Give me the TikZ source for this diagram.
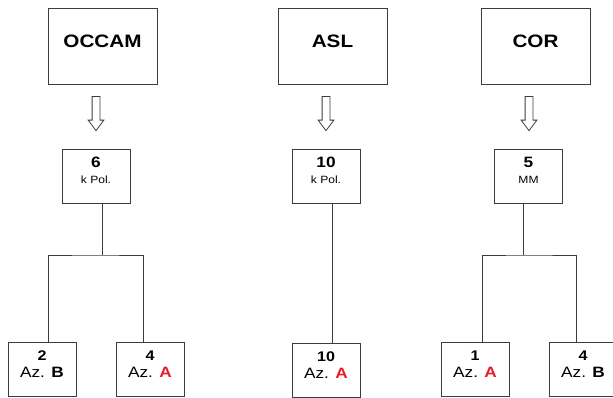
\documentclass[tikz,border=0pt]{standalone}
\usepackage{fontspec}
\setmainfont{Liberation Sans}[FakeStretch=1.15]
\usetikzlibrary{shapes.arrows}
\definecolor{azred}{RGB}{232,28,36}
\definecolor{linegray}{RGB}{60,60,60}

\begin{document}
\begin{tikzpicture}[x=1pt, y=-1pt,
    titlebox/.style={rectangle, draw=linegray, line width=0.9pt, minimum width=109pt, minimum height=76pt,
        font=\fontsize{18}{20}\selectfont\bfseries, text height=13pt, text depth=11pt},
    kbox/.style={rectangle, draw=linegray, line width=0.9pt, minimum width=68pt, minimum height=54pt,
        align=center, inner sep=0pt, font=\fontsize{15}{16}\selectfont, text height=26pt, text depth=12pt},
    azbox/.style={rectangle, draw=linegray, line width=0.9pt, minimum width=68pt, minimum height=54.5pt,
        align=center, inner sep=0pt, font=\fontsize{15}{17}\selectfont, text height=28pt, text depth=12pt},
    downarrow/.style={single arrow, draw=linegray, line width=0.8pt, rotate=-90, minimum height=34pt,
        minimum width=15pt, inner xsep=0pt, inner ysep=3.5pt, single arrow head extend=4pt,
        single arrow tip angle=74},
    link/.style={draw=linegray, line width=0.9pt}
]
\useasboundingbox (0,0) rectangle (613,397);

% Programs
\node[titlebox] (occam) at (102.5,46) {OCCAM};
\node[titlebox] (asl) at (332.5,46) {ASL};
\node[titlebox] (cor) at (535.5,46) {COR};

% Block arrows
\node[downarrow] (a1) at (96,111) {};
\node[downarrow] (a2) at (326,111) {};
\node[downarrow] (a3) at (529,111) {};

% Parent boxes
\node[kbox] (p1) at (96,176) {\textbf{6}\\{\fontsize{10.5}{12}\selectfont k Pol.}};
\node[kbox] (p2) at (326,176) {\textbf{10}\\{\fontsize{10.5}{12}\selectfont k Pol.}};
\node[kbox] (p3) at (528.5,176) {\textbf{5}\\{\fontsize{10.5}{12}\selectfont MM}};

% Children
\node[azbox] (c1) at (42,369.5) {{\fontsize{14}{16}\selectfont\bfseries 2}\\Az. \textbf{B}};
\node[azbox] (c2) at (150,369.5) {{\fontsize{14}{16}\selectfont\bfseries 4}\\Az. \textbf{\color{azred}A}};
\node[azbox] (c3) at (326,370.5) {{\fontsize{14}{16}\selectfont\bfseries 10}\\Az. \textbf{\color{azred}A}};
\node[azbox] (c4) at (475,369.5) {{\fontsize{14}{16}\selectfont\bfseries 1}\\Az. \textbf{\color{azred}A}};
\node[azbox] (c5) at (583,369.5) {{\fontsize{14}{16}\selectfont\bfseries 4}\\Az. \textbf{B}};

% Forks
\coordinate (f1) at (95.5,255);
\coordinate (f3) at (529,255);
\draw[link] ([xshift=6.5pt]p1.south) -- ([xshift=6.5pt]p1.south |- f1);
\draw[link] ([xshift=6pt]c1.north) |- (f1) -| ([xshift=-7pt]c2.north);
\draw[link] ([xshift=6pt]p2.south) -- ([xshift=6pt]c3.north);
\draw[link] ([xshift=-5.5pt]p3.south) -- ([xshift=-5.5pt]p3.south |- f3);
\draw[link] ([xshift=7pt]c4.north) |- (f3) -| ([xshift=-7pt]c5.north);

\end{tikzpicture}
\end{document}
